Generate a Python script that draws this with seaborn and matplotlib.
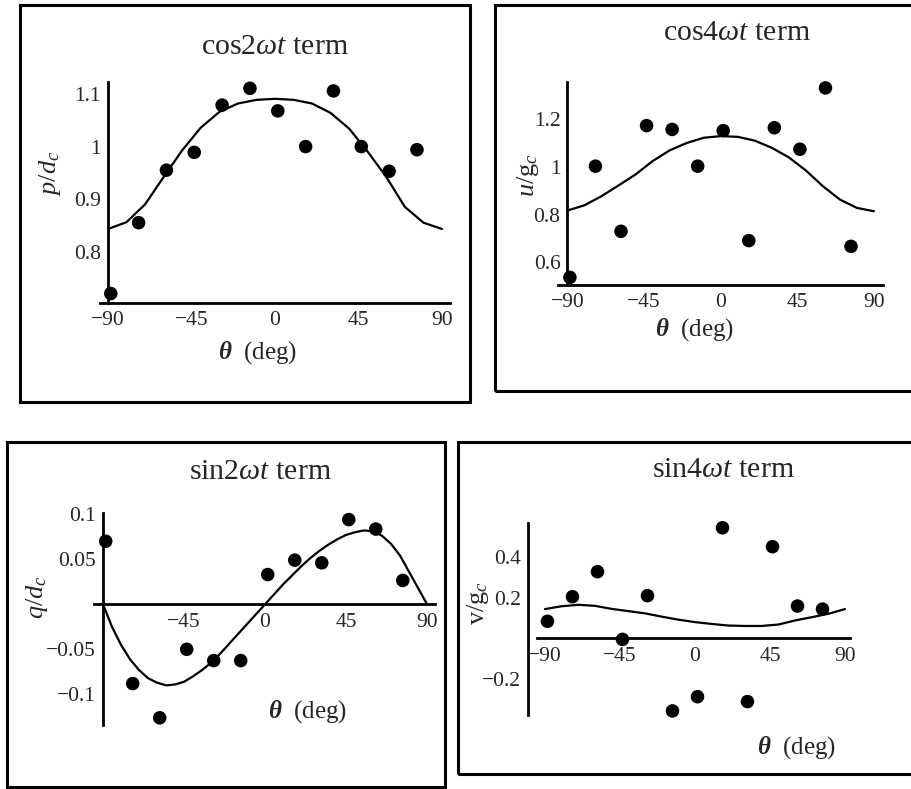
import matplotlib
matplotlib.use("Agg")
import matplotlib.pyplot as plt
from matplotlib.patches import Rectangle
import seaborn as sns

# measured points (theta in deg)
theta_pts = [-88.5, -73.5, -58.5, -43.5, -28.5, -13.5, 1.5, 16.5, 31.5, 46.5, 61.5, 76.5]
p_dc = [0.72, 0.855, 0.955, 0.989, 1.079, 1.111, 1.068, 1.0, 1.106, 1.0, 0.953, 0.994]
u_gc = [0.537, 1.003, 0.730, 1.173, 1.157, 1.003, 1.152, 0.691, 1.164, 1.074, 1.331, 0.667]
q_dc = [0.070, -0.088, -0.126, -0.050, -0.0625, -0.0625, 0.033, 0.049, 0.046, 0.094, 0.0835, 0.0265]
v_gc = [0.084, 0.205, 0.328, -0.005, 0.210, -0.357, -0.287, 0.544, -0.311, 0.451, 0.159, 0.144]

# fitted curves
theta_fit10 = [-90, -80, -70, -60, -50, -40, -30, -20, -10, 0, 10, 20, 30, 40, 50, 60, 70, 80, 90]
p_fit = [0.843, 0.856, 0.890, 0.942, 0.993, 1.036, 1.066, 1.082, 1.089, 1.091, 1.089, 1.082, 1.064,
         1.034, 0.990, 0.942, 0.885, 0.855, 0.843]
u_fit = [0.817, 0.839, 0.877, 0.922, 0.968, 1.024, 1.069, 1.100, 1.122, 1.129, 1.126, 1.110, 1.080,
         1.040, 0.985, 0.919, 0.863, 0.828, 0.814]
v_fit = [0.144, 0.158, 0.165, 0.160, 0.145, 0.134, 0.123, 0.107, 0.092, 0.080, 0.071, 0.063, 0.061,
         0.061, 0.068, 0.088, 0.104, 0.121, 0.144]
theta_fit5 = [-90, -85, -80, -75, -70, -65, -60, -55, -50, -45, -40, -35, -30, -25, -20, -15, -10, -5,
              0, 5, 10, 15, 20, 25, 30, 35, 40, 45, 50, 55, 60, 65, 70, 75, 80, 85, 90]
q_fit = [0.0, -0.025, -0.045, -0.061, -0.073, -0.082, -0.087, -0.090, -0.089, -0.086, -0.080, -0.073,
         -0.065, -0.055, -0.044, -0.033, -0.022, -0.011, 0.0, 0.011, 0.022, 0.032, 0.042, 0.051, 0.059,
         0.066, 0.072, 0.077, 0.080, 0.082, 0.081, 0.076, 0.067, 0.054, 0.036, 0.018, 0.0]

x_ticks = [-90, -45, 0, 45, 90]
x_labels = ["\u221290", "\u221245", "0", "45", "90"]
p_ticks, p_labels = [0.8, 0.9, 1.0, 1.1], ["0.8", "0.9", "1", "1.1"]
u_ticks, u_labels = [0.6, 0.8, 1.0, 1.2], ["0.6", "0.8", "1", "1.2"]
q_ticks, q_labels = [-0.1, -0.05, 0.05, 0.1], ["\u22120.1", "\u22120.05", "0.05", "0.1"]
v_ticks, v_labels = [-0.2, 0.2, 0.4], ["\u22120.2", "0.2", "0.4"]

sns.set_theme(style="white")
plt.rcParams["font.family"] = ["Liberation Serif", "DejaVu Serif"]
plt.rcParams["mathtext.fontset"] = "custom"
plt.rcParams["mathtext.rm"] = "Liberation Serif"
plt.rcParams["mathtext.it"] = "Liberation Serif:italic"
plt.rcParams["mathtext.bf"] = "Liberation Serif:bold"
plt.rcParams["mathtext.bfit"] = "Liberation Serif:italic:bold"

W, H = 912, 789
fig = plt.figure(figsize=(W / 100, H / 100), dpi=100)


def px_axes(x0, y0, x1, y1):
    return fig.add_axes([x0 / W, 1 - y1 / H, (x1 - x0) / W, (y1 - y0) / H])


def frame(x0, y0, x1, y1):
    fig.add_artist(Rectangle((x0 / W, 1 - y1 / H), (x1 - x0) / W, (y1 - y0) / H,
                             transform=fig.transFigure, fill=False, ec="black", lw=2.2))


def panel(box, xlim, ylim, xcross, ycross, xfit, yfit, ypts, xt, xl, yt, yl,
          title, tpos, ylab, ypos, xpos, xbounds=None):
    x0, y0, x1, y1 = box
    ax = px_axes(*box)
    ax.set_facecolor("none")
    sns.lineplot(x=xfit, y=yfit, ax=ax, color="black", lw=1.6, sort=False)
    sns.scatterplot(x=theta_pts, y=ypts, ax=ax, color="black", s=95, edgecolor="none",
                    zorder=5, clip_on=False)
    ax.set_xlim(*xlim)
    ax.set_ylim(*ylim)
    for s in ["top", "right"]:
        ax.spines[s].set_visible(False)
    ax.spines["left"].set_position(("data", xcross))
    ax.spines["bottom"].set_position(("data", ycross))
    if xbounds:
        ax.spines["bottom"].set_bounds(*xbounds)
    for s in ["left", "bottom"]:
        ax.spines[s].set_color("black")
        ax.spines[s].set_linewidth(2.0)
    ax.set_xticks(xt)
    ax.set_xticklabels(xl)
    ax.set_yticks(yt)
    ax.set_yticklabels(yl)
    ax.tick_params(axis="both", direction="in", length=4, width=1, color="black",
                   labelsize=15.5, pad=5)
    ax.tick_params(axis="x", pad=6)

    def frac(px, py):
        return (px - x0) / (x1 - x0), (y1 - py) / (y1 - y0)

    tx, ty = frac(*tpos)
    ax.set_title(title, fontsize=21.5, x=tx, y=ty, va="center", pad=0)
    ax.set_xlabel(r"$\mathbfit{\theta}$  (deg)", fontsize=18, va="center")
    ax.xaxis.set_label_coords(*frac(*xpos))
    ax.set_ylabel(ylab, fontsize=19, va="center")
    ax.yaxis.set_label_coords(*frac(*ypos))
    return ax


# cos2wt
frame(20, 5, 470, 402)
panel((100, 82, 450, 303), (-94.3, 94.3), (0.702, 1.123), -90, 0.702,
      theta_fit10, p_fit, p_dc, x_ticks, x_labels, p_ticks, p_labels,
      r"cos2$\omega t$ term", (275, 47), r"$p/d_c$", (50, 173), (258, 353))

# cos4wt
frame(495, 5, 916, 391)
panel((558.3, 81.7, 882.7, 285), (-95.3, 95.1), (0.505, 1.357), -90, 0.505,
      theta_fit10, u_fit, u_gc, x_ticks, x_labels, u_ticks, u_labels,
      r"cos4$\omega t$ term", (737, 33), r"$u$/g$_c$", (528, 175), (695, 330))

# sin2wt
frame(7, 442, 445, 787)
panel((94, 513.3, 435, 725), (-95, 94.4), (-0.134, 0.101), -90, 0.0,
      theta_fit5, q_fit, q_dc, x_ticks[1:], x_labels[1:], q_ticks, q_labels,
      r"sin2$\omega t$ term", (260, 472), r"$q/d_c$", (37, 597), (308, 712))

# sin4wt
frame(458, 442, 916, 774)
panel((528.3, 522.7, 850, 715), (-100, 93), (-0.377, 0.569), -100, 0.0,
      theta_fit10, v_fit, v_gc, x_ticks, x_labels, v_ticks, v_labels,
      r"sin4$\omega t$ term", (723, 470), r"v/g$_c$", (478, 603), (797, 748),
      xbounds=(-95, 93))

fig.savefig("out.png", dpi=100)
